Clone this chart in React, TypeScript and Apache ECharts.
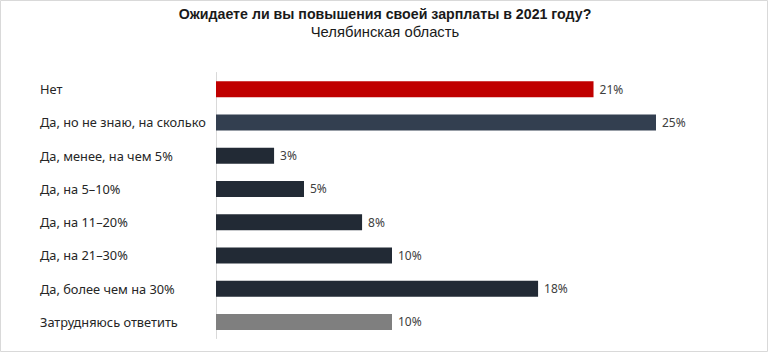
import React, { useEffect, useRef } from "react";
import * as echarts from "echarts";

const titleText = "Ожидаете ли вы повышения своей зарплаты в 2021 году?";
const subtitleText = "Челябинская область";
const categories = [
  "Нет",
  "Да, но не знаю, на сколько",
  "Да, менее, на чем 5%",
  "Да, на 5–10%",
  "Да, на 11–20%",
  "Да, на 21–30%",
  "Да, более чем на 30%",
  "Затрудняюсь ответить",
];
const values = [21.45, 25, 3.3, 5, 8.3, 10, 18.3, 10];
const barColors = ["#c00000", "#333f50", "#222a35", "#222a35", "#222a35", "#222a35", "#222a35", "#7f7f7f"];

const FONT = "'Noto Sans', 'Liberation Sans', Arial, sans-serif";
const TFONT = "'Liberation Sans', Arial, sans-serif";

export default function App() {
  const ref = useRef<HTMLDivElement>(null);
  useEffect(() => {
    if (!ref.current) return;
    const chart = echarts.init(ref.current, undefined, { renderer: "svg" });
    chart.setOption({
      animation: false,
      backgroundColor: "#ffffff",
      title: [
        {
          text: titleText,
          left: "center",
          top: 6,
          padding: 0,
          textStyle: { fontFamily: TFONT, fontSize: 14.2, fontWeight: "bold", color: "#1a1a1a", lineHeight: 16 },
        },
        {
          text: subtitleText,
          left: "center",
          top: 23.5,
          padding: 0,
          textStyle: { fontFamily: TFONT, fontSize: 14.8, fontWeight: "normal", color: "#1a1a1a", lineHeight: 16 },
        },
      ],
      graphic: [
        {
          type: "rect",
          shape: { x: 0.5, y: 0.5, width: 767, height: 351 },
          style: { fill: "none", stroke: "#d9d9d9", lineWidth: 1 },
          silent: true,
        },
      ],
      grid: { left: 216, top: 72.5, height: 266, width: 528 },
      xAxis: {
        type: "value",
        min: 0,
        max: 30,
        show: false,
        splitLine: { show: false },
      },
      yAxis: {
        type: "category",
        inverse: true,
        data: categories,
        axisLine: { show: true, lineStyle: { color: "#d9d9d9", width: 1 } },
        axisTick: { show: false },
        axisLabel: {
          align: "left",
          margin: 176,
          fontFamily: FONT,
          fontSize: 12.8,
          color: "#262626",
        },
      },
      series: [
        {
          type: "bar",
          barWidth: 16,
          data: values.map((v, i) => ({ value: v, itemStyle: { color: barColors[i] } })),
          label: {
            show: true,
            position: "right",
            distance: 6,
            fontFamily: FONT,
            fontSize: 12,
            color: "#404040",
            formatter: (p: any) => Math.round(p.value) + "%",
          },
        },
      ],
    });
    return () => chart.dispose();
  }, []);
  return <div ref={ref} style={{ position: "fixed", left: 0, top: 0, width: 770, height: 355 }} />;
}
